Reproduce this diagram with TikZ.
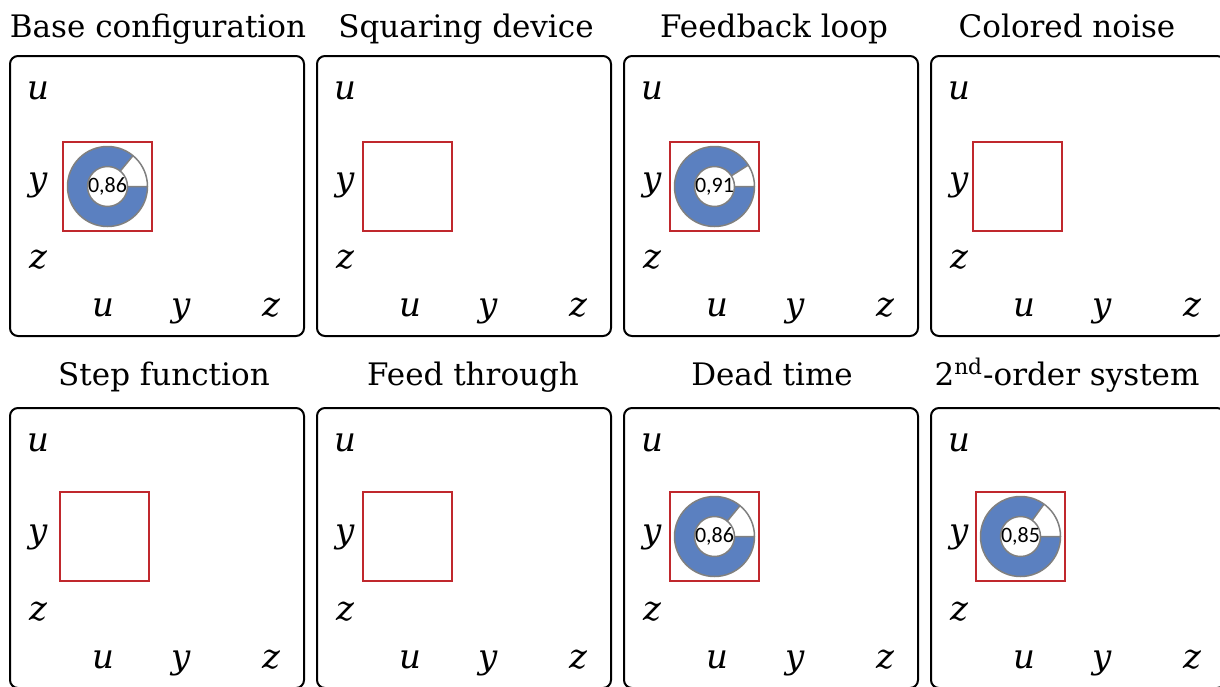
\documentclass[tikz,border=0pt]{standalone}
\usepackage{fontspec}
\setmainfont{DejaVu Serif}
\newfontfamily\valuefont{Carlito}
\usetikzlibrary{calc}
\definecolor{cellred}{RGB}{192,40,45}
\definecolor{ringblue}{RGB}{91,128,192}
\definecolor{ringgray}{RGB}{128,128,128}

\begin{document}
\begin{tikzpicture}[x=0.5pt,y=-0.5pt,
  panel/.style={draw,line width=1pt,rounded corners=4pt,minimum width=147pt,
    minimum height=140pt,inner sep=0pt,outer sep=0pt,anchor=north west},
  title/.style={font=\fontsize{15.5}{18}\selectfont,anchor=base,inner sep=0pt},
  lbl/.style={font=\fontsize{17}{20}\selectfont\itshape,anchor=base,inner sep=0pt},
  cell/.style={draw=cellred,line width=0.75pt,minimum size=44.5pt,inner sep=0pt,
    outer sep=0pt,anchor=north west},
  value/.style={font=\valuefont\fontsize{11}{13}\selectfont,inner sep=0pt}]
  % Page
  \useasboundingbox (0,0) rectangle (1220,686);
  \clip (0,0) rectangle (1220,686);
  % Titles
  \foreach \i/\tx/\ty/\txt in {1/158/37/Base configuration, 2/466/37/Squaring device,
      3/774/37/Feedback loop, 4/1067/37/Colored noise, 5/164/385/Step function,
      6/473/385/Feed through, 7/772/385/Dead time, 8/1067/385/2\textsuperscript{nd}-order system}
    \node[title] (t\i) at (\tx,\ty) {\txt};
  % Panels, cells and axis labels
  \foreach \i/\px/\py/\sx/\sy in {1/10/56/63/142, 2/317/56/363/142, 3/624/56/670/142,
      4/931/56/973/142, 5/10/408/60/492, 6/317/408/363/492, 7/624/408/670/492,
      8/931/408/976/492}{
    \node[panel] (p\i) at (\px,\py) {};
    \node[cell] (c\i) at (\sx,\sy) {};
    \node[lbl] (ru\i) at ([shift={(28,43)}]p\i.north west) {u};
    \node[lbl] (ry\i) at ([shift={(28,134)}]p\i.north west) {y};
    \node[lbl] (rz\i) at ([shift={(28,212)}]p\i.north west) {z};
    \node[lbl] (cu\i) at ([shift={(93,260)}]p\i.north west) {u};
    \node[lbl] (cy\i) at ([shift={(171,260)}]p\i.north west) {y};
    \node[lbl] (cz\i) at ([shift={(261,260)}]p\i.north west) {z};
  }
  % Donut charts
  \foreach \i/\v/\txt in {1/0.86/{0,86}, 3/0.91/{0,91}, 7/0.86/{0,86}, 8/0.85/{0,85}}{
    \pgfmathsetmacro\gap{(1-\v)*360}
    \begin{scope}[shift={(c\i.center)},x=0.5pt,y=0.5pt]
      \fill[ringblue,even odd rule] (0,0) circle (40) (0,0) circle (20);
      \fill[white] (0:20) -- (0:40) arc (0:\gap:40) -- (\gap:20) arc (\gap:0:20) -- cycle;
      \draw[ringgray,line width=0.75pt] (0,0) circle (40) (0,0) circle (20)
        (0:20) -- (0:40) (\gap:20) -- (\gap:40);
    \end{scope}
    \node[value] (v\i) at (c\i) {\txt};
  }
\end{tikzpicture}
\end{document}
